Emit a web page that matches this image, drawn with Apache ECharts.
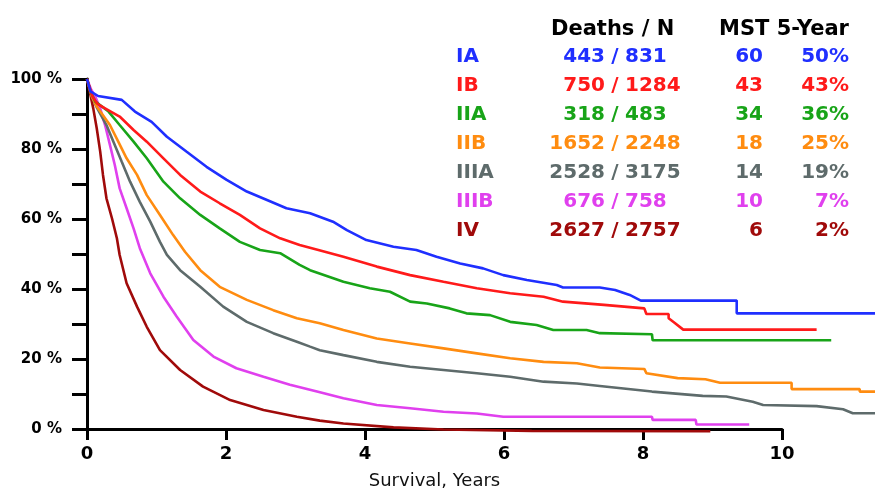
<!DOCTYPE html>
<html>
<head>
<meta charset="utf-8">
<script src="https://cdn.jsdelivr.net/npm/echarts@6/dist/echarts.min.js"></script>
<style>
html,body{margin:0;padding:0;background:#fff;}
#chart{width:875px;height:495px;}
</style>
</head>
<body>
<div id="chart"></div>
<script>
// ---- Data ----
var stages = ['IA', 'IB', 'IIA', 'IIB', 'IIIA', 'IIIB', 'IV'];
var deaths = [443, 750, 318, 1652, 2528, 676, 2627];
var totals = [831, 1284, 483, 2248, 3175, 758, 2757];
var mst = [60, 43, 34, 18, 14, 10, 6];
var fiveYear = ['50%', '43%', '36%', '25%', '19%', '7%', '2%'];
var colors = ['#1f2fff', '#ff1a1a', '#18a418', '#ff8c10', '#5e6b6b', '#e040ee', '#a00a0a'];
var xTicks = [0, 2, 4, 6, 8, 10];

var curveIA = [[0,100],[0.05,96.5],[0.16,95.2],[0.5,94.1],[0.69,90.8],[0.93,87.9],[1.15,83.7],[1.43,79.5],[1.72,75.2],[2.01,71.5],[2.3,68.2],[2.59,65.8],[2.87,63.5],[3.21,62.1],[3.54,59.7],[3.74,57.3],[4.02,54.5],[4.41,52.6],[4.74,51.7],[5.03,49.8],[5.37,47.9],[5.7,46.5],[5.99,44.6],[6.33,43.2],[6.76,41.8],[6.85,41.1],[7.38,41.1],[7.6,40.4],[7.81,39.0],[7.97,37.4],[9.35,37.4],[9.35,33.8],[11.34,33.8]];
var curveIB = [[0,100],[0.08,95],[0.15,93],[0.26,91.7],[0.47,89.4],[0.67,85.6],[0.86,82.3],[1.1,77.6],[1.34,72.9],[1.63,68.2],[1.91,64.9],[2.2,61.6],[2.49,57.8],[2.78,55.0],[3.06,53.1],[3.33,51.7],[3.69,49.8],[4.17,47.0],[4.65,44.6],[5.13,42.7],[5.61,40.9],[6.09,39.5],[6.57,38.5],[6.85,37.1],[7.44,36.2],[8.02,35.2],[8.05,33.6],[8.37,33.6],[8.37,32.4],[8.45,31.2],[8.58,29.2],[10.5,29.2]];
var curveIIA = [[0,100],[0.06,96],[0.12,93.6],[0.31,90.8],[0.47,87.0],[0.67,82.3],[0.86,77.6],[1.1,71.0],[1.34,66.3],[1.63,61.6],[1.91,57.8],[2.2,54.0],[2.49,51.7],[2.78,50.8],[3.06,47.5],[3.21,46.0],[3.69,42.7],[4.07,40.9],[4.36,39.9],[4.65,37.1],[4.89,36.6],[5.22,35.2],[5.46,33.8],[5.8,33.3],[6.09,31.4],[6.47,30.5],[6.71,29.1],[7.19,29.1],[7.38,28.2],[8.13,27.9],[8.14,26.2],[10.71,26.2]];
var curveIIB = [[0,100],[0.07,95],[0.14,92.2],[0.33,87.0],[0.45,82.3],[0.57,77.6],[0.72,72.9],[0.86,67.2],[1.05,61.6],[1.24,55.9],[1.41,51.2],[1.63,46.0],[1.91,41.3],[2.3,37.6],[2.68,34.7],[3.02,32.4],[3.35,31.0],[3.69,29.1],[4.17,26.7],[4.65,25.3],[5.13,23.9],[5.61,22.5],[6.09,21.1],[6.57,20.1],[7.05,19.7],[7.38,18.5],[8.02,18.1],[8.05,16.9],[8.5,15.5],[8.9,15.2],[9.11,14.2],[10.14,14.2],[10.14,12.4],[11.12,12.4],[11.12,11.7],[11.34,11.7]];
var curveIIIA = [[0,100],[0.07,95],[0.14,92],[0.28,87.0],[0.38,82.3],[0.5,76.6],[0.62,71.0],[0.76,65.3],[0.91,59.7],[1.05,54.0],[1.15,50.3],[1.34,46.0],[1.63,41.3],[1.96,35.7],[2.3,31.4],[2.68,28.2],[3.02,25.8],[3.21,24.4],[3.35,23.4],[3.69,22.0],[4.17,20.1],[4.65,18.7],[5.13,17.8],[5.61,16.9],[6.09,15.9],[6.57,14.5],[7.05,14.0],[7.38,13.3],[8.13,11.7],[8.86,10.5],[9.2,10.3],[9.58,8.8],[9.73,7.9],[10.5,7.6],[10.88,6.7],[11.02,5.6],[11.34,5.6]];
var curveIIIB = [[0,100],[0.06,97],[0.12,95],[0.19,91.7],[0.26,87.0],[0.33,81.4],[0.4,75.7],[0.47,69.1],[0.57,63.5],[0.67,57.8],[0.76,52.2],[0.91,45.1],[1.1,38.5],[1.29,32.9],[1.53,26.3],[1.82,21.6],[2.15,18.3],[2.54,15.9],[2.92,13.6],[3.31,11.7],[3.69,9.8],[4.17,7.9],[4.65,7.0],[5.13,6.0],[5.61,5.5],[5.99,4.6],[8.13,4.6],[8.14,3.7],[8.76,3.7],[8.77,2.4],[9.53,2.4]];
var curveIV = [[0,100],[0.02,98],[0.04,96.4],[0.09,91.7],[0.14,86.1],[0.19,79.5],[0.23,72.9],[0.28,66.3],[0.36,60.6],[0.43,55.0],[0.47,50.3],[0.57,42.3],[0.72,35.7],[0.86,30.0],[1.05,23.4],[1.34,17.8],[1.67,13.1],[2.06,9.3],[2.54,6.5],[3.02,4.6],[3.35,3.5],[3.69,2.7],[4.41,1.6],[5.13,1.0],[6.4,0.6],[8.97,0.5]];
var curves = [curveIA, curveIB, curveIIA, curveIIB, curveIIIA, curveIIIB, curveIV];

// ---- Chart ----
var chart = echarts.init(document.getElementById('chart'), null, {renderer: 'canvas'});
var FONT = 'DejaVu Sans';

var series = curves.map(function (c, i) {
  return {
    name: stages[i], type: 'line', xAxisIndex: 1, yAxisIndex: 1,
    data: c, showSymbol: false, symbol: 'none', smooth: false,
    lineStyle: {color: colors[i], width: 2.6},
    z: 10 - i * 0.1, animation: false
  };
});

var graphics = [];
graphics.push({type: 'text', left: 551, top: 19, style: {text: 'Deaths / N', font: 'bold 21px "DejaVu Sans"', fill: '#000'}});
graphics.push({type: 'text', left: 719, top: 19, style: {text: 'MST 5-Year', font: 'bold 21px "DejaVu Sans"', fill: '#000'}});
stages.forEach(function (s, i) {
  var y = 57 + i * 29;
  var f = 'bold 20px "DejaVu Sans"';
  graphics.push({type: 'text', x: 456, y: y, style: {text: s, font: f, fill: colors[i], textAlign: 'left', textVerticalAlign: 'middle'}});
  graphics.push({type: 'text', x: 605, y: y, style: {text: String(deaths[i]), font: f, fill: colors[i], textAlign: 'right', textVerticalAlign: 'middle'}});
  graphics.push({type: 'text', x: 615, y: y, style: {text: '/', font: f, fill: colors[i], textAlign: 'center', textVerticalAlign: 'middle'}});
  graphics.push({type: 'text', x: 625, y: y, style: {text: String(totals[i]), font: f, fill: colors[i], textAlign: 'left', textVerticalAlign: 'middle'}});
  graphics.push({type: 'text', x: 763, y: y, style: {text: String(mst[i]), font: f, fill: colors[i], textAlign: 'right', textVerticalAlign: 'middle'}});
  graphics.push({type: 'text', x: 849, y: y, style: {text: fiveYear[i], font: f, fill: colors[i], textAlign: 'right', textVerticalAlign: 'middle'}});
});

var option = {
  backgroundColor: '#ffffff',
  animation: false,
  grid: [
    {left: 87, right: 93, top: 79, bottom: 62, containLabel: false},
    {left: 87, right: 0, top: 79, bottom: 62, containLabel: false}
  ],
  xAxis: [
    {
      gridIndex: 0, type: 'value', min: xTicks[0], max: xTicks[xTicks.length - 1], interval: 2,
      name: 'Survival, Years', nameLocation: 'middle', nameGap: 43,
      nameTextStyle: {fontFamily: FONT, fontSize: 18, color: '#111'},
      axisLine: {show: true, lineStyle: {color: '#000', width: 3}},
      axisTick: {show: true, length: 11, lineStyle: {color: '#000', width: 3}},
      axisLabel: {show: true, margin: 16, fontFamily: FONT, fontWeight: 'bold', fontSize: 18, color: '#000'},
      splitLine: {show: false}
    },
    {
      gridIndex: 1, type: 'value', min: 0, max: 11.34, show: false
    }
  ],
  yAxis: [
    {
      gridIndex: 0, type: 'value', min: 0, max: 100, interval: 10,
      axisLine: {show: true, lineStyle: {color: '#000', width: 3}},
      axisTick: {show: true, length: 15, lineStyle: {color: '#000', width: 3}},
      axisLabel: {show: true, margin: 25, fontFamily: FONT, fontWeight: 'bold', fontSize: 15, color: '#000',
        formatter: function (v) { return v % 20 === 0 ? v + ' %' : ''; }},
      splitLine: {show: false}
    },
    {
      gridIndex: 1, type: 'value', min: 0, max: 100, show: false
    }
  ],
  series: series,
  graphic: graphics
};
chart.setOption(option);
</script>
</body>
</html>
